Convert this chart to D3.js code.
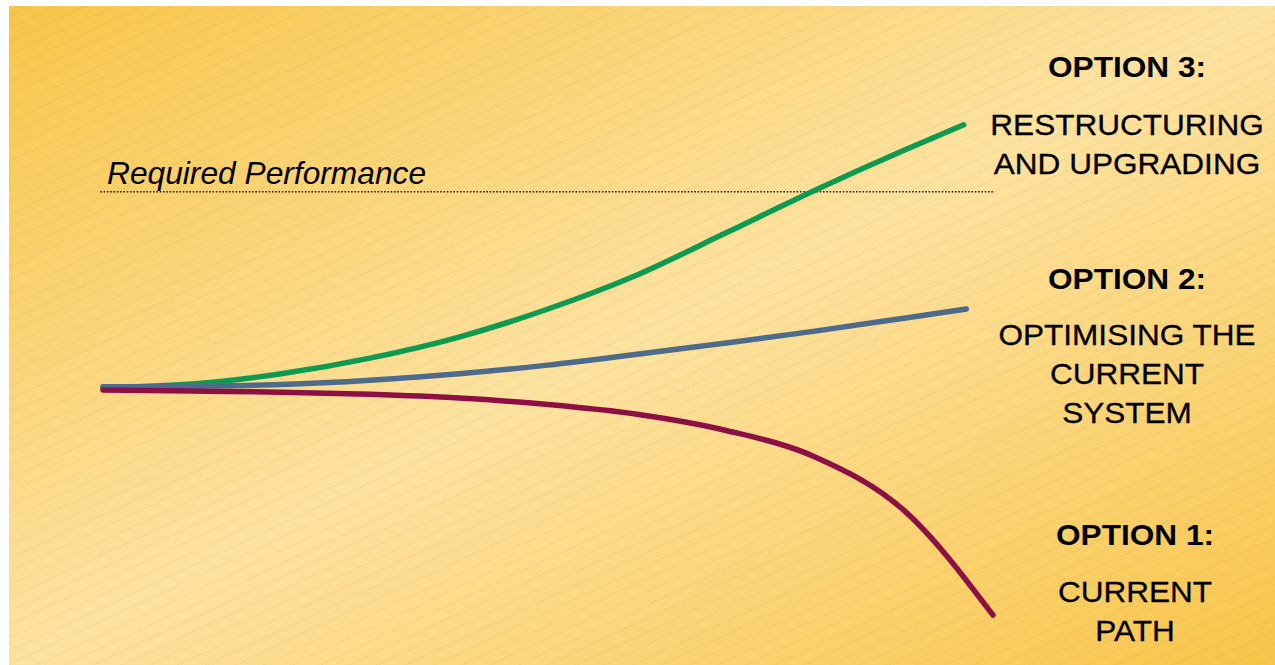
<!DOCTYPE html>
<html>
<head>
<meta charset="utf-8">
<script src="https://cdn.jsdelivr.net/npm/d3@7"></script>
<style>
  html, body { margin: 0; padding: 0; background: #fff; }
  svg { display: block; font-family: "Liberation Sans", Arial, sans-serif; }
</style>
</head>
<body>
<div id="root"></div>
<script>
const WIDTH = 1275
const HEIGHT = 665

// time steps along the x axis
const steps = [0, 1, 2, 3, 4, 5, 6, 7, 8, 9, 9.67]
const stepsBlue = [0, 1, 2, 3, 4, 5, 6, 7, 8, 9, 9.7]
const stepsRed = [0, 1, 2, 3, 4, 5, 6, 7, 8, 9, 10]

// performance index for each option
const option3 = [46.7, 47.4, 49.3, 52.2, 56.1, 61.3, 67.6, 75.4, 83.3, 90.7, 95.4]
const option2 = [46.9, 47.0, 47.3, 48.1, 49.3, 50.9, 52.9, 55.0, 57.2, 59.6, 61.3]
const option1 = [46.3, 46.1, 45.9, 45.5, 44.8, 43.6, 41.8, 38.8, 33.9, 24.0, 4.6]

const requiredPerformance = 83.0
const requiredRange = [-0.03, 10.02]

const series = [
  { name: 'Option 3', xs: steps, ys: option3, color: '#0f9a52' },
  { name: 'Option 2', xs: stepsBlue, ys: option2, color: '#4d6b8a' },
  { name: 'Option 1', xs: stepsRed, ys: option1, color: '#8d1045' }
]

const labels = [
  { title: 'OPTION 3:', lines: ['RESTRUCTURING', 'AND UPGRADING'], cx: 1127, y: 77, y0: 135 },
  { title: 'OPTION 2:', lines: ['OPTIMISING THE', 'CURRENT', 'SYSTEM'], cx: 1127, y: 289, y0: 345 },
  { title: 'OPTION 1:', lines: ['CURRENT', 'PATH'], cx: 1135, y: 545, y0: 602 }
]

const xScale = d3.scaleLinear().domain([0, 10]).range([103, 993])
const yScale = d3.scaleLinear().domain([0, 100]).range([640, 100])

const svg = d3.select('#root')
  .append('svg')
  .attr('width', WIDTH)
  .attr('height', HEIGHT)

const defs = svg.append('defs')

const grad = defs.append('linearGradient')
  .attr('id', 'bg')
  .attr('x1', 0).attr('y1', 0)
  .attr('x2', 1).attr('y2', 1)
grad.append('stop').attr('offset', '0%').attr('stop-color', '#f7c549')
grad.append('stop').attr('offset', '50%').attr('stop-color', '#fde2a0')
grad.append('stop').attr('offset', '100%').attr('stop-color', '#f8c54a')

const hatch = defs.append('pattern')
  .attr('id', 'hatch')
  .attr('patternUnits', 'userSpaceOnUse')
  .attr('width', 40)
  .attr('height', 12)
  .attr('patternTransform', 'rotate(-25)')
hatch.append('line')
  .attr('x1', 0).attr('x2', 40)
  .attr('y1', 6).attr('y2', 6)
  .attr('stroke', '#b8924a')
  .attr('stroke-opacity', 0.4)
  .attr('stroke-width', 0.8)
  .attr('stroke-dasharray', '1,1.5')

// background panel
svg.append('rect')
  .attr('x', 9).attr('y', 6)
  .attr('width', WIDTH - 9).attr('height', HEIGHT - 6)
  .attr('fill', 'url(#bg)')
svg.append('rect')
  .attr('x', 9).attr('y', 6)
  .attr('width', WIDTH - 9).attr('height', HEIGHT - 6)
  .attr('fill', 'url(#hatch)')

// required performance line
svg.append('line')
  .attr('x1', xScale(requiredRange[0]))
  .attr('x2', xScale(requiredRange[1]))
  .attr('y1', yScale(requiredPerformance))
  .attr('y2', yScale(requiredPerformance))
  .attr('stroke', '#111')
  .attr('stroke-width', 1.6)
  .attr('stroke-dasharray', '1.5,1.8')

svg.append('text')
  .attr('transform', `translate(107, ${yScale(requiredPerformance) - 8}) scale(1.04, 1)`)
  .attr('font-size', 30.5)
  .attr('font-style', 'italic')
  .attr('fill', '#000')
  .text('Required Performance')

const line = d3.line()
  .x(d => xScale(d[0]))
  .y(d => yScale(d[1]))
  .curve(d3.curveMonotoneX)

svg.selectAll('path.option')
  .data(series)
  .enter()
  .append('path')
  .attr('class', 'option')
  .attr('d', d => line(d.xs.map((x, i) => [x, d.ys[i]])))
  .attr('fill', 'none')
  .attr('stroke', d => d.color)
  .attr('stroke-width', 5.5)
  .attr('stroke-linecap', 'round')

// option labels on the right
labels.forEach(l => {
  svg.append('text')
    .attr('transform', `translate(${l.cx}, ${l.y}) scale(1.09, 1)`)
    .attr('text-anchor', 'middle')
    .attr('font-size', 29)
    .attr('font-weight', 'bold')
    .text(l.title)
  l.lines.forEach((t, i) => {
    svg.append('text')
      .attr('transform', `translate(${l.cx}, ${l.y0 + i * 39}) scale(1.07, 1)`)
      .attr('text-anchor', 'middle')
      .attr('font-size', 29.5)
      .attr('stroke', '#000')
      .attr('stroke-width', 0.3)
      .text(t)
  })
})
</script>
</body>
</html>
